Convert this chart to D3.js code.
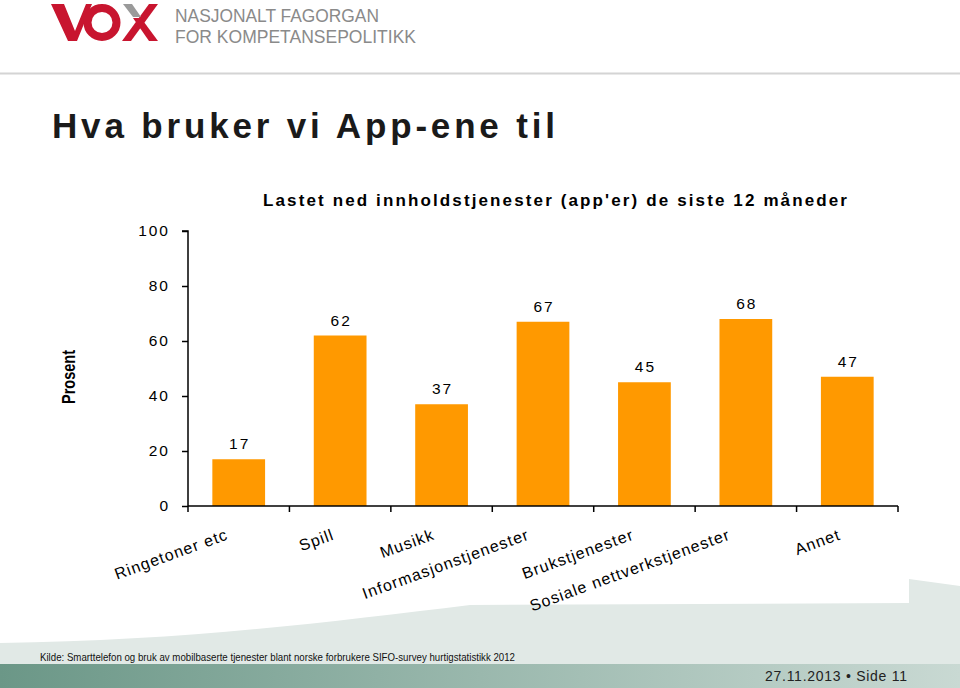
<!DOCTYPE html>
<html>
<head>
<meta charset="utf-8">
<script src="https://cdn.jsdelivr.net/npm/d3@7"></script>
<style>
  html, body { margin: 0; padding: 0; background: #fff; }
  svg { display: block; }
  text { font-family: "Liberation Sans", Arial, sans-serif; }
</style>
</head>
<body>
<svg id="chart" width="960" height="688"></svg>
<script>
// ---- data ----
const categories = ["Ringetoner etc", "Spill", "Musikk", "Informasjonstjenester", "Brukstjenester", "Sosiale nettverkstjenester", "Annet"];
const values = [17, 62, 37, 67, 45, 68, 47];
const yTicks = [0, 20, 40, 60, 80, 100];
const pageTitle = "Hva bruker vi App-ene til";
const chartTitle = "Lastet ned innholdstjenester (app'er) de siste 12 måneder";
const yLabel = "Prosent";
const sourceText = "Kilde: Smarttelefon og bruk av mobilbaserte tjenester blant norske forbrukere SIFO-survey hurtigstatistikk 2012";
const footerText = "27.11.2013 \u2022 Side 11";
const logoLines = ["NASJONALT FAGORGAN", "FOR KOMPETANSEPOLITIKK"];

const svg = d3.select("#chart");
const W = 960, H = 688;

// ---- background / footer ----
const defs = svg.append("defs");
const grad = defs.append("linearGradient").attr("id", "gbar").attr("x1", "0").attr("x2", "1").attr("y1", "0").attr("y2", "0");
grad.append("stop").attr("offset", "0%").attr("stop-color", "#6b9787");
grad.append("stop").attr("offset", "100%").attr("stop-color", "#c9d9d3");

svg.append("rect").attr("width", W).attr("height", H).attr("fill", "#fff");
svg.append("path")
  .attr("d", "M0,643 C180,641 330,622 470,605 L909,603 L909,579 L960,586 L960,665 L0,665 Z")
  .attr("fill", "#e1e9e6");
svg.append("rect").attr("x", 0).attr("y", 664).attr("width", W).attr("height", 24).attr("fill", "url(#gbar)");
svg.append("line").attr("x1", 0).attr("x2", W).attr("y1", 73.5).attr("y2", 73.5).attr("stroke", "#d4d4d4").attr("stroke-width", 2);

// ---- logo ----
const logo = svg.append("g");
const red = "#c8152f";
logo.append("path").attr("d", "M51,4 L64,4 L75,31 L86,4 L92,4 L77,41 L68,41 Z").attr("fill", red);
logo.append("circle").attr("cx", 102).attr("cy", 22.5).attr("r", 14.5).attr("fill", "none").attr("stroke", red).attr("stroke-width", 8);
logo.append("path").attr("d", "M149,4 L158,4 L131,41 L122,41 Z").attr("fill", red);
logo.append("path").attr("d", "M133,18 L141,18 L158,41 L149,41 Z").attr("fill", red);
logo.append("path").attr("d", "M123,4 L132,4 L141,17 L133,17 Z").attr("fill", "#9a9a9a");
logoLines.forEach((t, i) => {
  logo.append("text").attr("x", 175).attr("y", 21.5 + i * 21)
    .attr("font-family", "'Liberation Sans Narrow', 'Arial Narrow', 'Liberation Sans', sans-serif")
    .attr("font-size", 18).attr("fill", "#8a8a8a")
    .attr("textLength", i === 0 ? 204 : 241).attr("lengthAdjust", "spacingAndGlyphs")
    .text(t);
});

// ---- page title ----
svg.append("text").attr("x", 52).attr("y", 138)
  .attr("font-size", 35).attr("font-weight", "bold").attr("fill", "#1a1a1a")
  .attr("textLength", 503).attr("lengthAdjust", "spacing")
  .text(pageTitle);

// ---- chart ----
const x0 = 188, x1 = 898, yTop = 231, yBot = 506;
const x = d3.scaleBand().domain(categories).range([x0, x1]).paddingInner(0.48).paddingOuter(0.24);
const xb = d3.scaleBand().domain(categories).range([x0, x1]);
const y = d3.scaleLinear().domain([0, 100]).range([yBot, yTop]);

svg.append("text").attr("x", 263).attr("y", 206)
  .attr("font-size", 17).attr("font-weight", "bold").attr("fill", "#000")
  .attr("textLength", 584).attr("lengthAdjust", "spacing")
  .text(chartTitle);

// bars
svg.append("g").selectAll("rect").data(values).join("rect")
  .attr("x", (d, i) => x(categories[i]))
  .attr("width", x.bandwidth())
  .attr("y", d => y(d))
  .attr("height", d => y(0) - y(d))
  .attr("fill", "#ff9900");

// value labels
svg.append("g").selectAll("text").data(values).join("text")
  .attr("x", (d, i) => x(categories[i]) + x.bandwidth() / 2 + 1)
  .attr("y", d => y(d) - 10)
  .attr("text-anchor", "middle")
  .attr("font-size", 15.5).attr("letter-spacing", 2).attr("fill", "#000")
  .text(d => d);

// y axis
const yAxis = d3.axisLeft(y).tickValues(yTicks).tickSize(6).tickPadding(12).tickFormat(d3.format("d"));
const gy = svg.append("g").attr("transform", `translate(${x0},0)`).call(yAxis);
gy.select(".domain").attr("stroke", "#000").attr("stroke-width", 1.5).attr("d", `M-6,${yTop}H0V${yBot}`);
gy.selectAll(".tick line").attr("stroke", "#000").attr("stroke-width", 1.5);
gy.selectAll(".tick text").attr("font-family", "'Liberation Sans', Arial, sans-serif")
  .attr("font-size", 15.5).attr("letter-spacing", 2).attr("fill", "#000");

// x axis
const xAxis = d3.axisBottom(xb).tickSize(0).tickFormat("");
const gx = svg.append("g").attr("transform", `translate(0,${yBot})`).call(xAxis);
gx.select(".domain").attr("stroke", "#000").attr("stroke-width", 1.5).attr("d", `M${x0},0H${x1}`);
// boundary ticks
const bounds = categories.map(c => xb(c)).concat([x1]);
gx.selectAll("line.bt").data(bounds).join("line").attr("class", "bt")
  .attr("x1", d => d).attr("x2", d => d).attr("y1", 0).attr("y2", 6)
  .attr("stroke", "#000").attr("stroke-width", 1.5);

// rotated category labels
const labG = svg.append("g");
categories.forEach(c => {
  const cx = xb(c) + xb.bandwidth() / 2;
  const t = labG.append("text")
    .attr("font-size", 16).attr("letter-spacing", 1.1).attr("fill", "#000")
    .attr("text-anchor", "end")
    .text(c);
  const len = t.node().getComputedTextLength();
  const off = 3 + 0.055 * len;
  t.attr("transform", `translate(${cx - off},${539}) rotate(-20)`);
});

// y label
svg.append("text")
  .attr("transform", "translate(75,404) rotate(-90)")
  .attr("font-family", "'Liberation Sans Narrow', 'Arial Narrow', 'Liberation Sans', sans-serif")
  .attr("font-size", 19).attr("font-weight", "bold").attr("fill", "#000")
  .attr("textLength", 54).attr("lengthAdjust", "spacingAndGlyphs")
  .text(yLabel);

// ---- footer texts ----
svg.append("text").attr("x", 40).attr("y", 661)
  .attr("font-family", "'Liberation Sans Narrow', 'Arial Narrow', 'Liberation Sans', sans-serif")
  .attr("font-size", 11.5).attr("fill", "#111")
  .attr("textLength", 475).attr("lengthAdjust", "spacingAndGlyphs")
  .text(sourceText);
svg.append("text").attr("x", 765).attr("y", 681)
  .attr("font-size", 14).attr("fill", "#222")
  .attr("textLength", 142).attr("lengthAdjust", "spacing")
  .text(footerText);
</script>
</body>
</html>
